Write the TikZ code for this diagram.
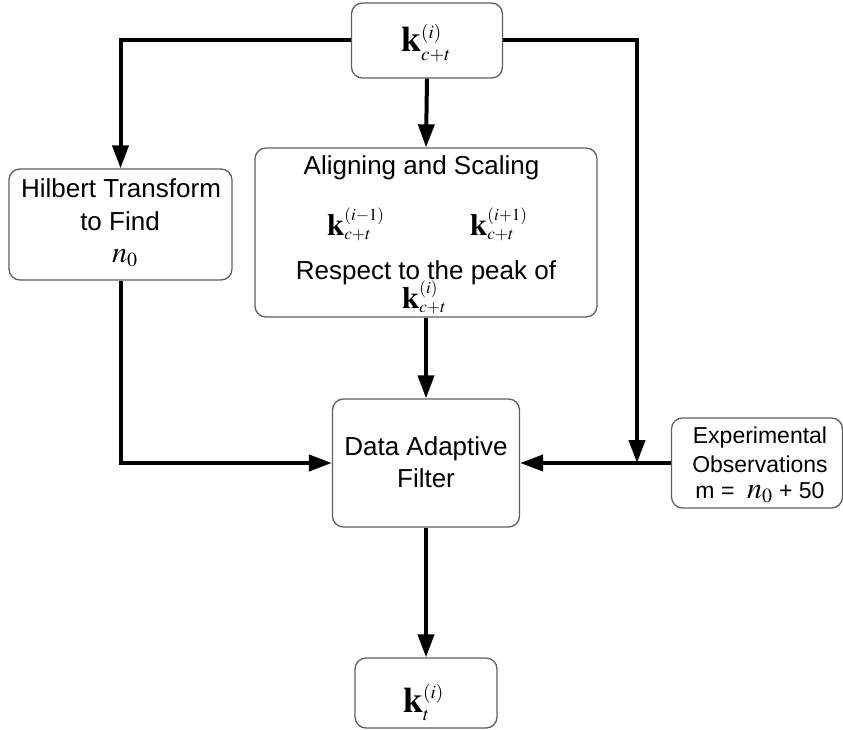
\documentclass[tikz,border=0pt]{standalone}
\usepackage{mathptmx}
\usepackage[no-math]{fontspec}
\setmainfont{Liberation Sans}
\usetikzlibrary{arrows.meta}
\definecolor{boxgray}{RGB}{95,95,95}
% large math with compact scripts
\DeclareMathSizes{36}{36}{19}{14}
\DeclareMathSizes{31}{31}{17}{13}
\DeclareMathSizes{30}{30}{20}{15}

\begin{document}
\begin{tikzpicture}[x=1pt,y=-1pt,
  box/.style={draw=boxgray, line width=1.3pt, rounded corners=11pt, inner sep=0pt},
  link/.style={line width=4pt, -{Triangle[length=23pt,width=16pt]}},
  lbl/.style={font=\fontsize{26}{30}\selectfont, inner sep=0pt, anchor=base},
  small/.style={font=\fontsize{23}{27}\selectfont, inner sep=0pt, anchor=base},
  bigmath/.style={font=\fontsize{36}{40}\selectfont, inner sep=0pt, anchor=base west},
  midmath/.style={font=\fontsize{31}{34}\selectfont, inner sep=0pt, anchor=base west},
  nmath/.style={font=\fontsize{30}{34}\selectfont, inner sep=0pt, anchor=base west}]
\useasboundingbox (0,0) rectangle (843,730);

% boxes
\node[box, minimum width=151pt, minimum height=75pt] (top) at (427,40.5) {};
\node[box, minimum width=342pt, minimum height=169pt] (align) at (426,232.5) {};
\node[box, minimum width=223pt, minimum height=111pt] (hilbert) at (120.5,224.5) {};
\node[box, minimum width=187pt, minimum height=128pt] (daf) at (426,463) {};
\node[box, minimum width=171pt, minimum height=90pt] (exp) at (757,463) {};
\node[box, minimum width=142pt, minimum height=70pt] (bottom) at (426,693) {};

% box contents
\node[bigmath] (ktop) at (401,52) {$\mathbf{k}^{(i)}_{c+t}$};

\node[lbl] (t1) at (421.5,175) {Aligning and Scaling};
\node[midmath] (km) at (327,235) {$\mathbf{k}^{(i-1)}_{c+t}$};
\node[midmath] (kp) at (470,235) {$\mathbf{k}^{(i+1)}_{c+t}$};
\node[lbl] (t2) at (426,279) {Respect to the peak of};
\node[midmath] (kc) at (402,308) {$\mathbf{k}^{(i)}_{c+t}$};

\node[lbl] (h1) at (121,197) {Hilbert Transform};
\node[lbl] (h2) at (120,230) {to Find};
\node[nmath] (h3) at (112,262) {$n_0$};

\node[lbl] (d1) at (426,455) {Data Adaptive};
\node[lbl] (d2) at (426,487) {Filter};

\node[small] (e1) at (760,443) {Experimental};
\node[small] (e2) at (760,472) {Observations};
\node[small] (e3) at (760,498) {m = \ {\fontsize{30}{34}\selectfont$n_0$} + 50};

\node[bigmath] (kbot) at (403,712) {$\mathbf{k}^{(i)}_{t}$};

% connectors
\coordinate (j) at (637,463);
\draw[link] (top.south) -- (align.north);
\draw[link] (top.west) -| (hilbert.north);
\draw[link] (top.east) -| (j);
\draw[link] (hilbert.south) |- (daf.west);
\draw[link] (align.south) -- (daf.north);
\draw[link] (exp.west) -- (daf.east);
\draw[link] (daf.south) -- (bottom.north);
\end{tikzpicture}
\end{document}
